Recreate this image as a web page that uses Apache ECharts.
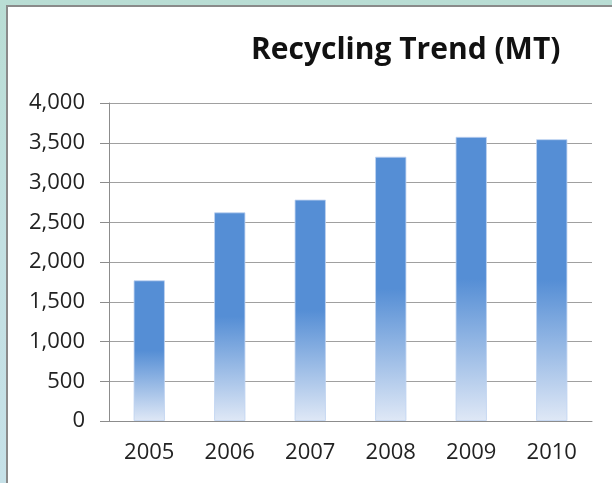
<!DOCTYPE html>
<html>
<head>
<meta charset="utf-8">
<script src="https://cdn.jsdelivr.net/npm/echarts@6/dist/echarts.min.js"></script>
<style>
  html, body { margin: 0; padding: 0; }
  body {
    width: 612px; height: 483px; overflow: hidden; position: relative;
    background: linear-gradient(180deg, #b9ddd4 0%, #c3e0e2 50%, #c6e1e8 100%);
  }
  #panel {
    position: absolute; left: 6px; top: 5px; width: 620px; height: 500px;
    background: #ffffff; border: 2px solid #8a8a8a; box-sizing: border-box;
  }
  #chart { position: absolute; left: 0; top: 0; width: 612px; height: 483px; }
</style>
</head>
<body>
<div id="panel"></div>
<div id="chart"></div>
<script>
// data
var years = ['2005', '2006', '2007', '2008', '2009', '2010'];
var tonnes = [1770, 2625, 2785, 3325, 3575, 3545];
var yTicks = [0, 500, 1000, 1500, 2000, 2500, 3000, 3500, 4000];

var chart = echarts.init(document.getElementById('chart'), null, { renderer: 'canvas' });

// each bar: solid blue on the upper half, fading out towards the axis
var barFill = new echarts.graphic.LinearGradient(0, 0, 0, 1, [
  { offset: 0, color: '#558ed5' },
  { offset: 0.5, color: '#558ed5' },
  { offset: 1, color: '#dfe8f6' }
]);

var option = {
  backgroundColor: 'transparent',
  animation: false,
  title: {
    text: 'Recycling Trend (MT)',
    left: 246,
    top: 30,
    textStyle: {
      fontFamily: 'Open Sans',
      fontWeight: 'bold',
      fontSize: 30,
      color: '#111'
    }
  },
  grid: { left: 109, right: 20, top: 103, bottom: 62 },
  xAxis: {
    type: 'category',
    data: years,
    axisLine: { lineStyle: { color: '#8c8c8c', width: 1 } },
    axisTick: { length: 9, lineStyle: { color: '#8c8c8c' } },
    axisLabel: {
      margin: 21,
      fontFamily: 'Open Sans',
      fontSize: 22,
      color: '#222'
    }
  },
  yAxis: {
    type: 'value',
    min: yTicks[0],
    max: yTicks[yTicks.length - 1],
    interval: 500,
    axisLine: { show: true, lineStyle: { color: '#8c8c8c', width: 1 } },
    axisTick: { show: true, length: 9, lineStyle: { color: '#8c8c8c' } },
    splitLine: { lineStyle: { color: '#a0a0a0', width: 1 } },
    axisLabel: {
      margin: 24,
      fontFamily: 'Open Sans',
      fontSize: 22,
      color: '#222',
      formatter: function (v) { return v.toLocaleString('en-US'); }
    }
  },
  series: [{
    type: 'bar',
    data: tonnes,
    barCategoryGap: '61%',
    itemStyle: {
      color: barFill,
      borderColor: 'rgba(190,210,240,0.8)',
      borderWidth: 1
    }
  }]
};

chart.setOption(option);
</script>
</body>
</html>
